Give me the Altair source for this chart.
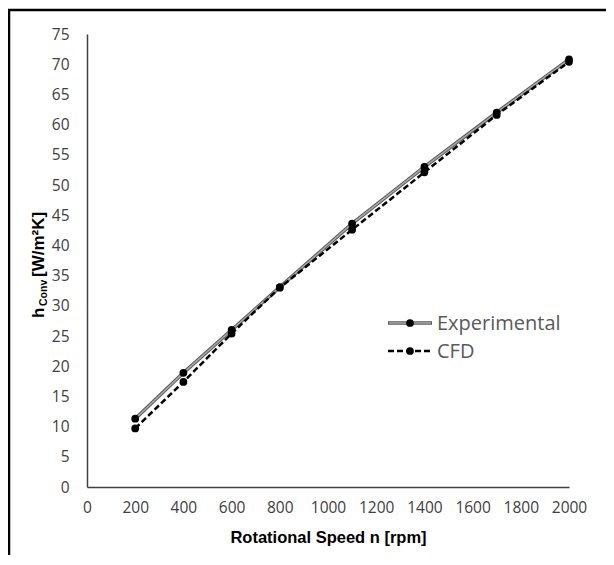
import altair as alt
import pandas as pd

# Data
speed = [200, 400, 600, 800, 1100, 1400, 1700, 2000]
exp_vals = [11.3, 18.9, 26.0, 33.1, 43.6, 53.0, 62.0, 70.8]
cfd_vals = [9.7, 17.4, 25.4, 33.0, 42.6, 52.1, 61.6, 70.4]
x_ticks = list(range(0, 2001, 200))
y_ticks = list(range(0, 76, 5))
series_names = ["Experimental", "CFD"]

df_exp = pd.DataFrame({"speed": speed, "h": exp_vals})
df_cfd = pd.DataFrame({"speed": speed, "h": cfd_vals})
one = pd.DataFrame({"a": [0]})

W, H = 482, 453

x_enc = alt.X("speed:Q", scale=alt.Scale(domain=[0, 2000], nice=False),
              axis=alt.Axis(values=x_ticks, format="d", labelOverlap=False, labelFlush=False,
                            title="Rotational Speed n [rpm]",
                            titleFont="Liberation Sans", titleFontWeight="bold",
                            titleFontSize=16.5, titleColor="#000000", titlePadding=14,
                            labelPadding=13))
y_enc = alt.Y("h:Q", scale=alt.Scale(domain=[0, 75], nice=False),
              axis=alt.Axis(values=y_ticks, format="d", labelOverlap=False, labelFlush=False,
                            title=None, labelPadding=18))

exp_outer = alt.Chart(df_exp).mark_line(color="#5a5a5a", strokeWidth=3.5).encode(x=x_enc, y=y_enc)
exp_inner = alt.Chart(df_exp).mark_line(color="#a8a8a8", strokeWidth=1.5).encode(x=x_enc, y=y_enc)
exp_pts = alt.Chart(df_exp).mark_circle(color="#000000", size=60, opacity=1).encode(x=x_enc, y=y_enc)
cfd_line = alt.Chart(df_cfd).mark_line(color="#000000", strokeWidth=2.5, strokeDash=[6, 3]).encode(x=x_enc, y=y_enc)
cfd_pts = alt.Chart(df_cfd).mark_circle(color="#000000", size=60, opacity=1).encode(x=x_enc, y=y_enc)

# Legend (drawn manually)
leg_exp_outer = alt.Chart(one).mark_rule(color="#5a5a5a", strokeWidth=3.5).encode(
    x=alt.value(301), x2=alt.value(345), y=alt.value(289))
leg_exp_inner = alt.Chart(one).mark_rule(color="#a8a8a8", strokeWidth=1.5).encode(
    x=alt.value(302), x2=alt.value(344), y=alt.value(289))
leg_exp_pt = alt.Chart(one).mark_circle(color="#000000", size=60, opacity=1).encode(
    x=alt.value(323), y=alt.value(289))
leg_exp_txt = alt.Chart(one).mark_text(text=series_names[0], align="left", baseline="middle",
                                       font="Open Sans", fontSize=20, color="#595959").encode(
    x=alt.value(350), y=alt.value(290))
leg_cfd_line = alt.Chart(one).mark_rule(color="#000000", strokeWidth=2.5, strokeDash=[6, 3]).encode(
    x=alt.value(301), x2=alt.value(345), y=alt.value(317))
leg_cfd_pt = alt.Chart(one).mark_circle(color="#000000", size=60, opacity=1).encode(
    x=alt.value(323), y=alt.value(317))
leg_cfd_txt = alt.Chart(one).mark_text(text=series_names[1], align="left", baseline="middle",
                                       font="Open Sans", fontSize=20, color="#595959").encode(
    x=alt.value(350), y=alt.value(318))

# Y-axis title with subscript
yt_h = alt.Chart(one).mark_text(text="h", angle=270, align="left", baseline="alphabetic",
                                font="Liberation Sans", fontWeight="bold", fontSize=17,
                                color="#000000").encode(x=alt.value(-43), y=alt.value(284))
yt_sub = alt.Chart(one).mark_text(text="Conv", angle=270, align="left", baseline="alphabetic",
                                  font="Liberation Sans", fontWeight="bold", fontSize=10.5,
                                  color="#000000").encode(x=alt.value(-40), y=alt.value(272))
yt_rest = alt.Chart(one).mark_text(text="[W/m²K]", angle=270, align="left", baseline="alphabetic",
                                   font="Liberation Sans", fontWeight="bold", fontSize=17,
                                   color="#000000").encode(x=alt.value(-43), y=alt.value(243))

# Outer frame (left and top edges visible)
frame_left = alt.Chart(one).mark_rule(color="#000000", strokeWidth=2.5).encode(
    x=alt.value(-78), y=alt.value(-24), y2=alt.value(700))
frame_top = alt.Chart(one).mark_rule(color="#000000", strokeWidth=2.5).encode(
    x=alt.value(-79), x2=alt.value(800), y=alt.value(-24))

chart = alt.layer(
    exp_outer, exp_inner, cfd_line, exp_pts, cfd_pts,
    leg_exp_outer, leg_exp_inner, leg_exp_pt, leg_exp_txt,
    leg_cfd_line, leg_cfd_pt, leg_cfd_txt,
    yt_h, yt_sub, yt_rest, frame_left, frame_top
).properties(
    width=W, height=H,
    autosize=alt.AutoSizeParams(type="none"),
    padding={"left": 79, "top": 26, "right": 37, "bottom": 68},
).configure_view(stroke=None).configure_axis(
    grid=False, ticks=False, domainColor="#404040", domainWidth=1.5,
    labelFont="Open Sans", labelFontSize=15.5, labelColor="#404040"
)

chart.save("out.html", embed_options={"renderer": "svg", "actions": False})
